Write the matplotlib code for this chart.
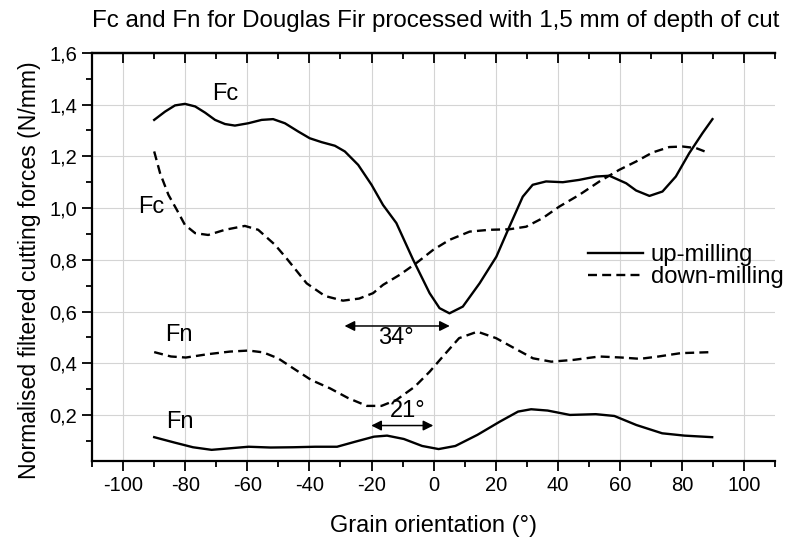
import numpy as np
import matplotlib.pyplot as plt
from matplotlib.ticker import MultipleLocator, FuncFormatter

plt.rcParams['font.family'] = ['Liberation Sans', 'DejaVu Sans']
plt.rcParams['axes.unicode_minus'] = False

# Fc, up-milling (solid)
fc_up_x = [-90, -86.5, -83.3, -80.1, -76.8, -73.6, -70.4, -67.2, -64, -59.7, -55.4, -51.7, -47.9, -43.6, -39.9, -36.1, -31.8, -28.6, -24.3, -20, -16.3,
           -12, -6.6, -1.3, 1.9, 5.1, 9.4, 14.8, 20.2, 24.4, 28.7, 31.9, 36.2, 41.6, 46.9, 52.3, 56.6, 62, 65.2, 69.5, 73.7, 78, 82.3, 86.6, 89.8]
fc_up_y = [1.341, 1.373, 1.397, 1.403, 1.393, 1.369, 1.341, 1.325, 1.319, 1.328, 1.341, 1.344, 1.328, 1.296, 1.27, 1.255, 1.241, 1.219, 1.167, 1.09, 1.012,
           0.942, 0.8, 0.671, 0.613, 0.593, 0.619, 0.709, 0.812, 0.928, 1.044, 1.09, 1.103, 1.1, 1.109, 1.122, 1.125, 1.096, 1.068, 1.047, 1.064, 1.122, 1.212, 1.29, 1.344]

# Fc, down-milling (dashed)
fc_dn_x = [-90, -88.1, -85.4, -82.7, -80.1, -76.8, -72.6, -67.2, -60.8, -56.5, -51.1, -47.4, -40.9, -35, -29.2, -24, -19.5, -16.3, -10.9, -5.6, -0.2,
           5.1, 11.6, 18, 24.4, 29.8, 35.1, 40.5, 46.9, 53.4, 59.8, 65.2, 70.5, 75.9, 80.2, 84.5, 88.2]
fc_dn_y = [1.219, 1.135, 1.051, 0.993, 0.935, 0.903, 0.896, 0.916, 0.931, 0.916, 0.858, 0.806, 0.709, 0.66, 0.642, 0.65, 0.671, 0.703, 0.742, 0.787, 0.838,
           0.877, 0.909, 0.916, 0.918, 0.928, 0.961, 1.006, 1.051, 1.103, 1.148, 1.18, 1.215, 1.236, 1.238, 1.232, 1.215]

# Fn, down-milling (dashed)
fn_dn_x = [-90, -84.6, -79.8, -72.7, -65.6, -59.6, -54.9, -50.1, -45.3, -39.4, -33.4, -27.5, -21.5, -16.8, -12, -6.1, -1.3, 3.4, 8.2, 14.1, 20.1,
           26, 32, 37.9, 45.1, 53.4, 60.5, 66.5, 72.4, 79.6, 89.7]
fn_dn_y = [0.443, 0.426, 0.422, 0.435, 0.445, 0.449, 0.442, 0.419, 0.381, 0.335, 0.303, 0.265, 0.235, 0.235, 0.258, 0.309, 0.367, 0.432, 0.497, 0.522, 0.497,
           0.458, 0.419, 0.406, 0.413, 0.426, 0.422, 0.417, 0.426, 0.439, 0.443]

# Fn, up-milling (solid)
fn_up_x = [-90, -83.4, -77.5, -71.5, -65.6, -59.6, -52.5, -45.3, -38.2, -31.1, -25.1, -19.2, -15, -9.6, -3.7, 1.6, 7, 14.1, 21.3, 27.2, 31.4,
           36.7, 43.9, 52.2, 58.2, 65.3, 73.6, 80.8, 89.7]
fn_up_y = [0.114, 0.093, 0.075, 0.065, 0.071, 0.077, 0.074, 0.075, 0.077, 0.077, 0.097, 0.116, 0.12, 0.107, 0.08, 0.068, 0.08, 0.123, 0.174, 0.213, 0.222,
           0.217, 0.2, 0.203, 0.196, 0.161, 0.129, 0.12, 0.114]

# curve labels (text, x, y)
labels = [("Fc", -67.2, 1.44), ("Fc", -90.8, 1.006), ("Fn", -82.2, 0.51), ("Fn", -81.6, 0.174)]
# angle arrows (x start, x end, y, text, text x, text y)
arrows = [(-28.7, 5.2, 0.544, "34°", -12, 0.497), (-20.1, -0.1, 0.159, "21°", -8.2, 0.217)]


def comma(v, pos):
    return f"{v:.1f}".replace('.', ',')


fig = plt.figure(figsize=(7.87, 5.4), dpi=100)
ax = fig.add_axes([0.117, 0.1454, 0.868, 0.7566])

ax.plot(fc_up_x, fc_up_y, 'k-', lw=1.7, label='up-milling', solid_joinstyle='round')
ax.plot(fc_dn_x, fc_dn_y, 'k--', lw=1.7, dashes=(3.8, 2.2), label='down-milling')
ax.plot(fn_dn_x, fn_dn_y, 'k--', lw=1.7, dashes=(3.8, 2.2))
ax.plot(fn_up_x, fn_up_y, 'k-', lw=1.7, solid_joinstyle='round')

for t, x, y in labels:
    ax.text(x, y, t, fontsize=17, ha='center', va='center')

for x0, x1, y, t, tx, ty in arrows:
    ax.annotate('', xy=(x0, y), xytext=(x1, y),
                arrowprops=dict(arrowstyle='<|-|>', color='k', lw=1.1,
                                mutation_scale=15, shrinkA=0, shrinkB=0))
    ax.text(tx, ty, t, fontsize=17, ha='center', va='center')

ax.set_xlim(-110, 110)
ax.set_ylim(0.02, 1.6)
ax.xaxis.set_major_locator(MultipleLocator(20))
ax.xaxis.set_minor_locator(MultipleLocator(10))
ax.set_yticks([0.2, 0.4, 0.6, 0.8, 1.0, 1.2, 1.4, 1.6])
ax.yaxis.set_minor_locator(MultipleLocator(0.1))
ax.yaxis.set_major_formatter(FuncFormatter(comma))

ax.grid(True, which='major', color='#d4d4d4', lw=0.8)
ax.set_axisbelow(True)
ax.spines['right'].set_visible(False)
for s in ['left', 'bottom', 'top']:
    ax.spines[s].set_linewidth(1.6)

ax.tick_params(axis='both', which='major', length=7.5, width=1.3, labelsize=14.5, direction='out', pad=3)
ax.tick_params(axis='both', which='minor', length=4, width=1.3, direction='out')

# top ticks point inward
top = ax.twiny()
top.set_xlim(ax.get_xlim())
top.xaxis.set_major_locator(MultipleLocator(20))
top.xaxis.set_minor_locator(MultipleLocator(10))
top.tick_params(axis='x', which='major', length=7.5, width=1.3, direction='in', labeltop=False)
top.tick_params(axis='x', which='minor', length=4, width=1.3, direction='in')
for s in ['left', 'bottom', 'right']:
    top.spines[s].set_visible(False)
top.spines['top'].set_linewidth(1.6)

ax.set_xlabel("Grain orientation (°)", fontsize=17, labelpad=14)
ax.set_ylabel("Normalised filtered cutting forces (N/mm)", fontsize=16.6)
ax.yaxis.set_label_coords(-0.075, 0.469)
fig.text(0.553, 0.962, "Fc and Fn for Douglas Fir processed with 1,5 mm of depth of cut",
         fontsize=17.4, ha='center', va='center')

ax.legend(loc='center left', bbox_to_anchor=(0.747, 0.5065), bbox_transform=fig.transFigure,
          frameon=False, fontsize=17.2, handlelength=2.3, handletextpad=0.34,
          labelspacing=0.0, borderpad=0, borderaxespad=0)

fig.savefig('out.png', dpi=100)
